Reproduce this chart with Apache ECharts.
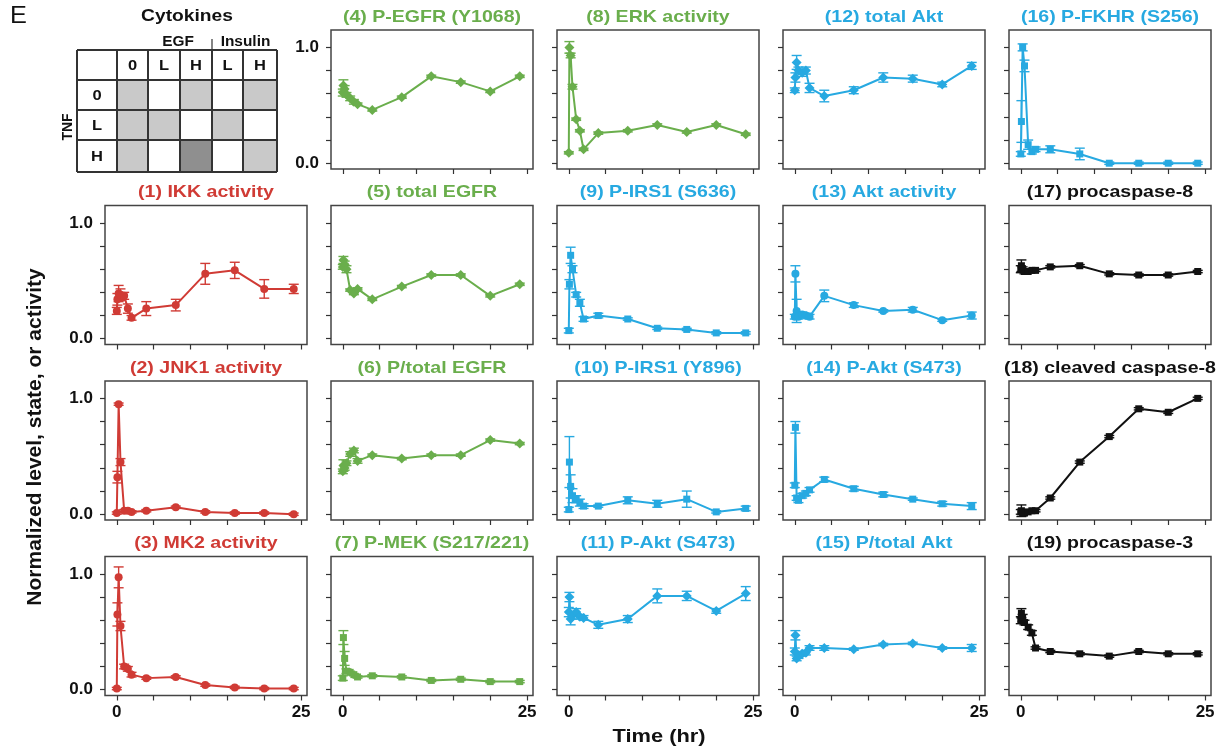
<!DOCTYPE html>
<html>
<head>
<meta charset="utf-8">
<script src="https://cdn.jsdelivr.net/npm/echarts@6/dist/echarts.min.js"></script>
<style>
  html, body { margin: 0; padding: 0; background: #fff; }
  #chart { width: 1223px; height: 752px; }
</style>
</head>
<body>
<div id="chart"></div>
<script>
// ===== 数据 =====
var hours = [0, 0.083, 0.25, 0.5, 1, 1.5, 2, 4, 8, 12, 16, 20, 24];
var xTicks = [0, 5, 10, 15, 20, 25];
var xLabels = [0, 25];
var yTicks = [0, 0.2, 0.4, 0.6, 0.8, 1.0];
var yLabels = [0, 1];

var ikk = [0.24, 0.34, 0.39, 0.38, 0.37, 0.26, 0.18, 0.26, 0.29, 0.56, 0.59, 0.43, 0.43];
var ikkErr = [0.03, 0.05, 0.07, 0.05, 0.03, 0.04, 0.02, 0.06, 0.05, 0.09, 0.07, 0.08, 0.04];
var jnk1 = [0.01, 0.32, 0.95, 0.45, 0.03, 0.03, 0.02, 0.03, 0.06, 0.02, 0.01, 0.01, 0.0];
var jnk1Err = [0.01, 0.05, 0.01, 0.03, 0.01, 0.01, 0.01, 0.01, 0.01, 0.01, 0.01, 0.01, 0.01];
var mk2 = [0.01, 0.65, 0.97, 0.55, 0.20, 0.18, 0.13, 0.10, 0.11, 0.04, 0.02, 0.01, 0.01];
var mk2Err = [0.01, 0.10, 0.09, 0.04, 0.02, 0.02, 0.02, 0.01, 0.01, 0.01, 0.01, 0.01, 0.01];

var pEgfr = [0.61, 0.67, 0.64, 0.59, 0.56, 0.53, 0.51, 0.46, 0.57, 0.75, 0.70, 0.62, 0.75];
var pEgfrErr = [0.03, 0.05, 0.03, 0.02, 0.02, 0.02, 0.01, 0.01, 0.01, 0.01, 0.01, 0.01, 0.01];
var totalEgfr = [0.62, 0.68, 0.64, 0.60, 0.42, 0.39, 0.43, 0.34, 0.45, 0.55, 0.55, 0.37, 0.47];
var totalEgfrErr = [0.02, 0.03, 0.03, 0.03, 0.01, 0.01, 0.01, 0.01, 0.01, 0.01, 0.01, 0.01, 0.01];
var ratioEgfr = [0.37, 0.42, 0.40, 0.44, 0.52, 0.55, 0.46, 0.51, 0.48, 0.51, 0.51, 0.64, 0.61];
var ratioEgfrErr = [0.02, 0.05, 0.02, 0.02, 0.02, 0.02, 0.02, 0.01, 0.01, 0.01, 0.01, 0.01, 0.01];
var pMek = [0.10, 0.45, 0.27, 0.16, 0.15, 0.13, 0.11, 0.12, 0.11, 0.08, 0.09, 0.07, 0.07];
var pMekErr = [0.02, 0.06, 0.06, 0.02, 0.01, 0.01, 0.01, 0.01, 0.01, 0.01, 0.01, 0.01, 0.01];

var erk = [0.09, 1.0, 0.93, 0.66, 0.38, 0.28, 0.12, 0.26, 0.28, 0.33, 0.27, 0.33, 0.25];
var erkErr = [0.01, 0.05, 0.02, 0.02, 0.01, 0.01, 0.01, 0.01, 0.01, 0.01, 0.01, 0.01, 0.01];
var irsS636 = [0.07, 0.47, 0.72, 0.60, 0.38, 0.31, 0.17, 0.20, 0.17, 0.09, 0.08, 0.05, 0.05];
var irsS636Err = [0.02, 0.04, 0.07, 0.03, 0.02, 0.03, 0.02, 0.02, 0.01, 0.01, 0.01, 0.01, 0.01];
var irsY896 = [0.04, 0.45, 0.24, 0.16, 0.13, 0.10, 0.07, 0.07, 0.12, 0.09, 0.13, 0.02, 0.05];
var irsY896Err = [0.02, 0.22, 0.10, 0.06, 0.03, 0.03, 0.02, 0.01, 0.03, 0.03, 0.07, 0.01, 0.02];
var pAktB = [0.67, 0.80, 0.61, 0.64, 0.67, 0.63, 0.62, 0.56, 0.61, 0.81, 0.81, 0.68, 0.83];
var pAktBErr = [0.04, 0.04, 0.05, 0.03, 0.03, 0.02, 0.02, 0.03, 0.03, 0.06, 0.04, 0.02, 0.06];

var totalAkt = [0.63, 0.74, 0.87, 0.80, 0.78, 0.80, 0.65, 0.58, 0.63, 0.74, 0.73, 0.68, 0.84];
var totalAktErr = [0.02, 0.04, 0.06, 0.03, 0.03, 0.03, 0.04, 0.05, 0.03, 0.04, 0.03, 0.02, 0.03];
var aktAct = [0.19, 0.56, 0.24, 0.19, 0.21, 0.20, 0.19, 0.37, 0.29, 0.24, 0.25, 0.16, 0.20];
var aktActErr = [0.02, 0.07, 0.10, 0.02, 0.02, 0.02, 0.02, 0.05, 0.02, 0.01, 0.02, 0.01, 0.03];
var pAktA = [0.25, 0.75, 0.14, 0.12, 0.16, 0.18, 0.21, 0.30, 0.22, 0.17, 0.13, 0.09, 0.07];
var pAktAErr = [0.02, 0.05, 0.02, 0.02, 0.02, 0.02, 0.02, 0.02, 0.02, 0.02, 0.01, 0.02, 0.03];
var ratioAkt = [0.33, 0.47, 0.27, 0.29, 0.31, 0.32, 0.36, 0.36, 0.35, 0.39, 0.40, 0.36, 0.36];
var ratioAktErr = [0.03, 0.04, 0.02, 0.02, 0.02, 0.02, 0.02, 0.02, 0.01, 0.01, 0.01, 0.01, 0.03];

var pFkhr = [0.08, 0.36, 1.0, 0.84, 0.16, 0.10, 0.12, 0.12, 0.08, 0.0, 0.0, 0.0, 0.0];
var pFkhrErr = [0.02, 0.18, 0.03, 0.05, 0.04, 0.02, 0.02, 0.03, 0.05, 0.01, 0.01, 0.01, 0.01];
var procasp8 = [0.60, 0.63, 0.60, 0.58, 0.58, 0.59, 0.59, 0.62, 0.63, 0.56, 0.55, 0.55, 0.58];
var procasp8Err = [0.03, 0.05, 0.02, 0.02, 0.01, 0.01, 0.01, 0.01, 0.01, 0.01, 0.01, 0.01, 0.01];
var cleaved8 = [0.02, 0.03, 0.01, 0.01, 0.02, 0.03, 0.03, 0.14, 0.45, 0.67, 0.91, 0.88, 1.0];
var cleaved8Err = [0.02, 0.05, 0.01, 0.01, 0.01, 0.01, 0.01, 0.01, 0.01, 0.01, 0.01, 0.01, 0.01];
var procasp3 = [0.60, 0.66, 0.62, 0.58, 0.54, 0.49, 0.36, 0.33, 0.31, 0.29, 0.33, 0.31, 0.31];
var procasp3Err = [0.03, 0.04, 0.03, 0.02, 0.02, 0.02, 0.01, 0.01, 0.01, 0.01, 0.01, 0.01, 0.01];

// ===== 样式 =====
var RED = '#d03b35', GREEN = '#6aae4c', BLUE = '#27a9e1', BLACK = '#111111';
var DIAMOND = 'path://M0,-1L1,0L0,1L-1,0Z';
var FONT = '"Liberation Sans", Arial, Helvetica, sans-serif';

var panels = [
    { row: 0, col: 1, name: '(4) P-EGFR (Y1068)',   color: GREEN, symbol: DIAMOND, y: pEgfr,     err: pEgfrErr },
    { row: 0, col: 2, name: '(8) ERK activity',     color: GREEN, symbol: DIAMOND, y: erk,       err: erkErr },
    { row: 0, col: 3, name: '(12) total Akt',       color: BLUE,  symbol: DIAMOND, y: totalAkt,  err: totalAktErr },
    { row: 0, col: 4, name: '(16) P-FKHR (S256)',   color: BLUE,  symbol: 'rect',  y: pFkhr,     err: pFkhrErr },
    { row: 1, col: 0, name: '(1) IKK activity',     color: RED,   symbol: 'circle', y: ikk,      err: ikkErr },
    { row: 1, col: 1, name: '(5) total EGFR',       color: GREEN, symbol: DIAMOND, y: totalEgfr, err: totalEgfrErr },
    { row: 1, col: 2, name: '(9) P-IRS1 (S636)',    color: BLUE,  symbol: 'rect',  y: irsS636,   err: irsS636Err },
    { row: 1, col: 3, name: '(13) Akt activity',    color: BLUE,  symbol: 'circle', y: aktAct,   err: aktActErr },
    { row: 1, col: 4, name: '(17) procaspase-8',    color: BLACK, symbol: 'rect',  y: procasp8,  err: procasp8Err },
    { row: 2, col: 0, name: '(2) JNK1 activity',    color: RED,   symbol: 'circle', y: jnk1,     err: jnk1Err },
    { row: 2, col: 1, name: '(6) P/total EGFR',     color: GREEN, symbol: DIAMOND, y: ratioEgfr, err: ratioEgfrErr },
    { row: 2, col: 2, name: '(10) P-IRS1 (Y896)',   color: BLUE,  symbol: 'rect',  y: irsY896,   err: irsY896Err },
    { row: 2, col: 3, name: '(14) P-Akt (S473)',    color: BLUE,  symbol: 'rect',  y: pAktA,     err: pAktAErr },
    { row: 2, col: 4, name: '(18) cleaved caspase-8', color: BLACK, symbol: 'rect', y: cleaved8, err: cleaved8Err },
    { row: 3, col: 0, name: '(3) MK2 activity',     color: RED,   symbol: 'circle', y: mk2,      err: mk2Err },
    { row: 3, col: 1, name: '(7) P-MEK (S217/221)', color: GREEN, symbol: 'rect',  y: pMek,      err: pMekErr },
    { row: 3, col: 2, name: '(11) P-Akt (S473)',    color: BLUE,  symbol: DIAMOND, y: pAktB,     err: pAktBErr },
    { row: 3, col: 3, name: '(15) P/total Akt',     color: BLUE,  symbol: DIAMOND, y: ratioAkt,  err: ratioAktErr },
    { row: 3, col: 4, name: '(19) procaspase-3',    color: BLACK, symbol: 'rect',  y: procasp3,  err: procasp3Err }
];

// 布局
var colLeft = [105, 331, 557, 783, 1009];
var rowTop = [30, 205.5, 381, 556.5];
var boxW = 202, boxH = 139;

function errorBar(params, api) {
    var x = api.value(0), y = api.value(1), e = api.value(2);
    if (!e) return null;
    var hi = api.coord([x, y + e]);
    var lo = api.coord([x, y - e]);
    var c = api.visual('color');
    var w = 5;
    var st = { stroke: c, lineWidth: 1.4 };
    return {
        type: 'group',
        children: [
            { type: 'line', shape: { x1: hi[0], y1: hi[1], x2: lo[0], y2: lo[1] }, style: st },
            { type: 'line', shape: { x1: hi[0] - w, y1: hi[1], x2: hi[0] + w, y2: hi[1] }, style: st },
            { type: 'line', shape: { x1: lo[0] - w, y1: lo[1], x2: lo[0] + w, y2: lo[1] }, style: st }
        ]
    };
}

// 文字（参考图文字横向略宽，用 scaleX 补）
function txt(s, x, y, size, weight, opts) {
    opts = opts || {};
    return {
        type: 'text', x: x, y: y,
        rotation: opts.rot || 0, scaleX: opts.sx || 1,
        style: {
            text: s, fill: opts.color || '#111', font: (weight || 'bold') + ' ' + size + 'px ' + FONT,
            textAlign: 'center', textVerticalAlign: 'middle', align: 'center', verticalAlign: 'middle'
        }
    };
}

var grids = [], xAxes = [], yAxes = [], series = [], graphics = [];

panels.forEach(function (p, i) {
    var left = colLeft[p.col], top = rowTop[p.row];
    grids.push({
        left: left, top: top, width: boxW, height: boxH,
        show: true, borderColor: '#444', borderWidth: 1.5,
        containLabel: false, outerBoundsMode: 'none'
    });
    var showX = p.row === 3;
    var showY = p.col === 0 || (p.row === 0 && p.col === 1);
    xAxes.push({
        gridIndex: i, type: 'value', min: -1.6, max: 25.8, position: 'bottom',
        axisLine: { show: false, onZero: false },
        splitLine: { show: false },
        axisTick: { show: true, length: 5, customValues: xTicks, lineStyle: { color: '#333', width: 1.2 } },
        axisLabel: {
            show: showX, customValues: xLabels, margin: 8,
            color: '#111', fontSize: 17, fontWeight: 'bold', fontFamily: FONT
        }
    });
    yAxes.push({
        gridIndex: i, type: 'value', min: -0.05, max: 1.15, position: 'left',
        axisLine: { show: false, onZero: false },
        splitLine: { show: false },
        axisTick: { show: true, length: 5, customValues: yTicks, lineStyle: { color: '#333', width: 1.2 } },
        axisLabel: {
            show: showY, customValues: yLabels, margin: 12,
            color: '#111', fontSize: 17, fontWeight: 'bold', fontFamily: FONT,
            formatter: function (v) { return Number(v).toFixed(1); }
        }
    });
    var pts = [], bars = [];
    for (var k = 0; k < hours.length; k++) {
        pts.push([hours[k], p.y[k]]);
        bars.push([hours[k], p.y[k], p.err[k]]);
    }
    series.push({
        type: 'custom', xAxisIndex: i, yAxisIndex: i,
        renderItem: errorBar, data: bars, encode: { x: 0, y: 1 },
        itemStyle: { color: p.color }, z: 2, silent: true, animation: false
    });
    series.push({
        type: 'line', xAxisIndex: i, yAxisIndex: i, data: pts,
        symbol: p.symbol, symbolSize: p.symbol === 'rect' ? 7 : (p.symbol === 'circle' ? 8 : 10),
        lineStyle: { color: p.color, width: 2 },
        itemStyle: { color: p.color },
        z: 3, animation: false
    });
    graphics.push(txt(p.name, left + boxW / 2, top - 13, 17, 'bold', { color: p.color, sx: 1.15 }));
});

// ===== 左上角表格 =====
var tblX = [77, 117, 148, 180, 212, 243, 277];
var tblY = [50, 80, 110, 140, 172];
var headCols = ['0', 'L', 'H', 'L', 'H'];
var headRows = ['0', 'L', 'H'];
var shade = [
    [1, 0, 1, 0, 1],
    [1, 1, 0, 1, 0],
    [1, 0, 2, 0, 1]
];
var shadeColor = ['#ffffff', '#c9c9c9', '#8f8f8f'];

for (var r = 0; r < 3; r++) {
    for (var c = 0; c < 5; c++) {
        if (shade[r][c]) {
            graphics.push({
                type: 'rect',
                shape: { x: tblX[c + 1], y: tblY[r + 1], width: tblX[c + 2] - tblX[c + 1], height: tblY[r + 2] - tblY[r + 1] },
                style: { fill: shadeColor[shade[r][c]] }
            });
        }
    }
}
tblX.forEach(function (x) {
    graphics.push({ type: 'line', shape: { x1: x, y1: tblY[0], x2: x, y2: tblY[4] }, style: { stroke: '#333', lineWidth: 2 } });
});
tblY.forEach(function (y) {
    graphics.push({ type: 'line', shape: { x1: tblX[0], y1: y, x2: tblX[6], y2: y }, style: { stroke: '#333', lineWidth: 2 } });
});
headCols.forEach(function (s, c) {
    graphics.push(txt(s, (tblX[c + 1] + tblX[c + 2]) / 2, (tblY[0] + tblY[1]) / 2 + 1, 15, 'bold', { sx: 1.1 }));
});
headRows.forEach(function (s, r) {
    graphics.push(txt(s, (tblX[0] + tblX[1]) / 2, (tblY[r + 1] + tblY[r + 2]) / 2 + 1, 15, 'bold', { sx: 1.1 }));
});
graphics.push({ type: 'line', shape: { x1: 212, y1: 39, x2: 212, y2: 50 }, style: { stroke: '#333', lineWidth: 1.2 } });
graphics.push(txt('EGF', 178, 42, 14, 'bold', { sx: 1.1 }));
graphics.push(txt('Insulin', 245.5, 42, 14, 'bold', { sx: 1.1 }));
graphics.push(txt('Cytokines', 187, 17, 16, 'bold', { sx: 1.2 }));
graphics.push(txt('TNF', 68, 127, 14, 'bold', { rot: Math.PI / 2 }));
graphics.push(txt('E', 18.5, 16.5, 23, 'normal', { sx: 1.1 }));

// 轴标题
graphics.push(txt('Normalized level, state, or activity', 35, 437, 21, 'bold', { rot: Math.PI / 2 }));
graphics.push(txt('Time (hr)', 659, 737, 19, 'bold', { sx: 1.15 }));

var chart = echarts.init(document.getElementById('chart'));
chart.setOption({
    animation: false,
    backgroundColor: '#fff',
    grid: grids,
    xAxis: xAxes,
    yAxis: yAxes,
    series: series,
    graphic: { elements: graphics }
});
</script>
</body>
</html>
